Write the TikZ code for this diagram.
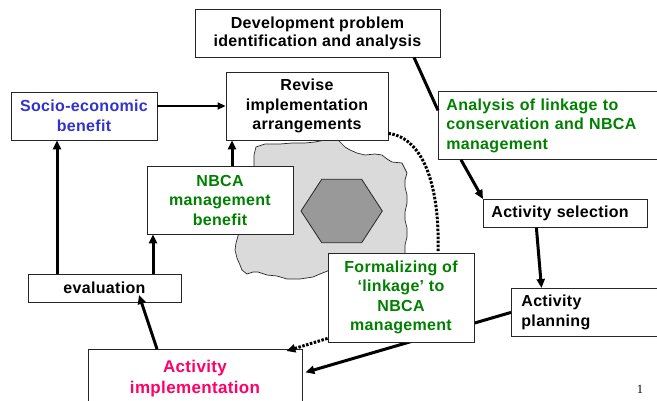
\documentclass[tikz,border=0pt]{standalone}
\usepackage{fontspec}
\setmainfont{Liberation Sans}[LetterSpace=2]
\newfontfamily\pagefont{Liberation Serif}
\usetikzlibrary{arrows.meta}
\pgfdeclarelayer{bg}
\pgfsetlayers{bg,main}
\definecolor{tgreen}{RGB}{0,128,0}
\definecolor{tblue}{RGB}{51,51,204}
\definecolor{tpink}{RGB}{255,0,102}
\definecolor{blobgray}{RGB}{218,218,218}
\definecolor{hexgray}{RGB}{153,153,153}
\tikzset{
 box/.style={draw=black!85, line width=0.8pt, fill=white, inner sep=0pt, align=center, font=\fontsize{16}{19.5}\selectfont\bfseries},
 flow/.style={line width=3pt, -{Triangle[length=9pt,width=8pt]}},
 flowplain/.style={line width=3pt},
 thinflow/.style={line width=1.5pt, -{Triangle[length=8pt,width=7pt]}},
 dotflow/.style={line width=3pt, dash pattern=on 2.5pt off 1.5pt},
}
\begin{document}
\begin{tikzpicture}[x=1pt,y=-1pt]
\useasboundingbox (0,0) rectangle (657,400);
\clip (0,0) rectangle (657,400);
% boxes
\node[box, minimum width=245pt, minimum height=48pt, font=\fontsize{16}{18}\selectfont\bfseries] (dev) at (317.5,33) {Development problem\\identification and analysis};
\node[box, minimum width=162pt, minimum height=68pt] (rev) at (307,106) {Revise\\implementation\\arrangements};
\node[box, minimum width=146pt, minimum height=48pt, text=tblue] (soc) at (84,116) {Socio-economic\\benefit};
\node[box, anchor=north west, minimum height=68pt, inner xsep=8pt, text width=216pt, align=left, text=tgreen] (ana) at (438,91) {Analysis of linkage to\\conservation and NBCA\\management};
\node[box, minimum width=146pt, minimum height=68pt, text=tgreen] (nbca) at (220,200) {NBCA\\management\\benefit};
\node[box, anchor=north west, minimum height=28pt, inner xsep=8pt, text width=148pt, align=left] (sel) at (483,199) {Activity selection};
\node[box, anchor=north west, minimum height=48pt, inner xsep=10pt, text width=139pt, align=left] (plan) at (511,288) {Activity\\planning};
\node[box, minimum width=146pt, minimum height=89pt, text=tgreen] (form) at (401,297.5) {Formalizing of\\‘linkage’ to\\NBCA\\management};
\node[box, minimum width=153pt, minimum height=28pt] (eval) at (104.5,288) {evaluation};
\node[box, anchor=north, minimum width=214pt, minimum height=58pt, text=tpink, font=\fontsize{17}{21.5}\selectfont\bfseries] (impl) at (195,349) {Activity\\implementation};
\node[font=\pagefont\fontsize{12.5}{14}\selectfont, inner sep=0pt] (pg) at (640,389) {1};
% background: blob, hexagon, hidden connector
\begin{pgfonlayer}{bg}
\draw[line width=0.7pt, draw=black!85, fill=blobgray] (256,147) -- (265,144) -- (280,144) -- (292,143) -- (305,143) -- (315,142) -- (325,140) -- (338,140) -- (345,147) -- (350,150) -- (357,153) -- (365,155) -- (375,154) -- (382,155) -- (387,159) -- (392,162) -- (402,163) -- (407,173) -- (405,180) -- (405,187) -- (407,195) -- (407,203) -- (405,212) -- (405,220) -- (407,228) -- (407,237) -- (405,245) -- (405,253) -- (404,262) -- (370,268) -- (330,270) -- (320,274) -- (313,277) -- (300,279) -- (287,279) -- (277,276) -- (267,275) -- (258,272) -- (253,272) -- (247,274) -- (242,270) -- (240,265) -- (237,258) -- (235,250) -- (236,243) -- (238,236) -- (240,230) -- (250,200) -- (254,170) -- (254,155) -- cycle;
\draw[line width=0.8pt, draw=black!85, fill=hexgray] (301,211) -- (321.7,179.3) -- (361.7,179.3) -- (382.3,211) -- (361.7,242.7) -- (321.7,242.7) -- cycle;
\draw[flow] (plan.west) -- ([shift={(3pt,6pt)}]impl.east);
\end{pgfonlayer}
% connectors
\draw[thinflow] ([yshift=10pt]soc.east) -- ([yshift=10pt]soc.east -| rev.west);
\draw[flow] ([xshift=12pt]nbca.north) -- ([xshift=12pt]nbca.north |- rev.south);
\draw[flow] ([xshift=-47.5pt]eval.north) -- ([xshift=-47.5pt]eval.north |- soc.south);
\draw[flow] ([xshift=48.5pt]eval.north) -- ([xshift=48.5pt]eval.north |- nbca.south);
\draw[flow] ([xshift=-38pt]impl.north) -- ([shift={(34.5pt,-7pt)}]eval.center);
\draw[flowplain] ([xshift=96.5pt]dev.south) -- ([yshift=15pt]ana.west);
\draw[flow] ([xshift=23pt]ana.south west) -- (sel.north west);
\draw[flow] ([xshift=-29pt]sel.south) -- ([xshift=30.5pt]plan.north west);
\draw[flow, dotflow] ([yshift=4pt]form.south west) -- ([shift={(-16pt,-2pt)}]impl.north east);
\draw[dotflow] ([yshift=7pt]rev.south east) .. controls (425,138) and (440,190) .. ([xshift=37pt]form.north);
\end{tikzpicture}
\end{document}
